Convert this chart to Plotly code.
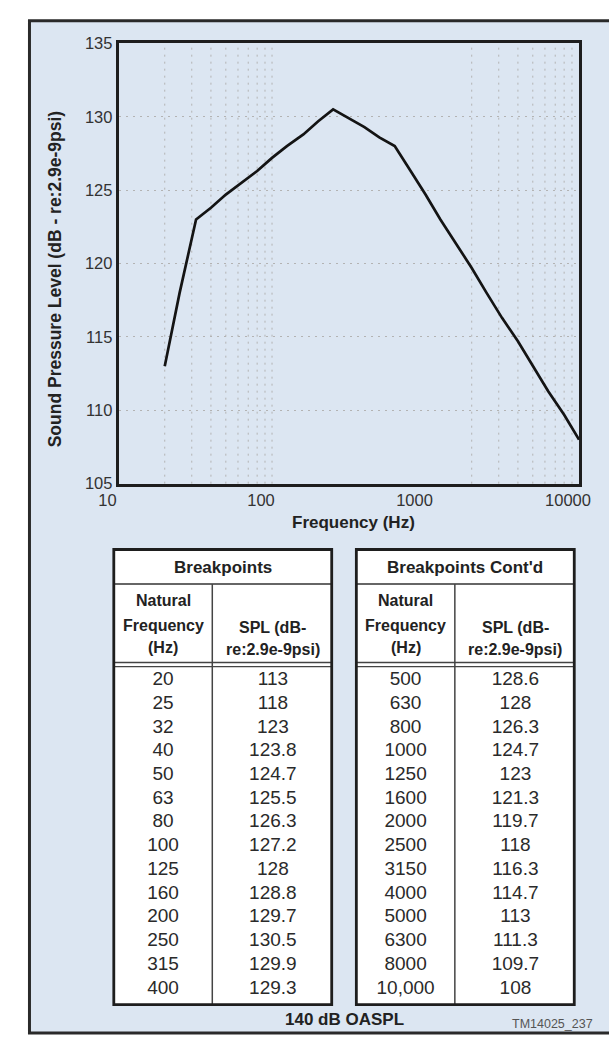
import plotly.graph_objects as go

# ---------------- data ----------------
freq_left = [20, 25, 32, 40, 50, 63, 80, 100, 125, 160, 200, 250, 315, 400]
spl_left = [113, 118, 123, 123.8, 124.7, 125.5, 126.3, 127.2, 128, 128.8, 129.7, 130.5, 129.9, 129.3]
freq_right = [500, 630, 800, 1000, 1250, 1600, 2000, 2500, 3150, 4000, 5000, 6300, 8000, 10000]
spl_right = [128.6, 128, 126.3, 124.7, 123, 121.3, 119.7, 118, 116.3, 114.7, 113, 111.3, 109.7, 108]
freq_right_labels = ["500", "630", "800", "1000", "1250", "1600", "2000", "2500", "3150",
                     "4000", "5000", "6300", "8000", "10,000"]
y_ticks = [105, 110, 115, 120, 125, 130, 135]
x_ticks = [10, 100, 1000, 10000]
x_tick_text = ["10", "100", "1000", "10000"]
grid_freqs = [20, 30, 40, 50, 60, 70, 80, 90, 100,
              2000, 3000, 4000, 5000, 6000, 7000, 8000, 9000]

W, H = 609, 1044
def px(x): return x / W
def py(y): return 1 - y / H

FONT = "Liberation Sans, Arial, Helvetica, sans-serif"
DARK = "#1e1e1e"
GRID = "#b3b3b3"
DOTS = "2px,5px"

fig = go.Figure()

# main curve
fig.add_trace(go.Scatter(
    x=freq_left + freq_right, y=spl_left + spl_right,
    mode="lines", line=dict(color="#141414", width=2.7),
    xaxis="x", yaxis="y", showlegend=False, hoverinfo="x+y"))

# ---------------- tables ----------------
TOP_ROW, BOT_ROW = 13.66, -5.51   # row-unit range of table axes
COL1, COL2, DIV = 0.226, 0.73, 0.452

def table_text(xa, ya, c1, c2):
    n = len(c1)
    for cx, col in ((COL1, c1), (COL2, c2)):
        fig.add_trace(go.Scatter(x=[cx] * n, y=list(range(n)), text=col, mode="text",
                                 textfont=dict(family=FONT, size=19, color="#2a2a2a"),
                                 xaxis=xa, yaxis=ya, showlegend=False, hoverinfo="skip"))

table_text("x2", "y2", [str(f) for f in freq_left], [f"{v:g}" for v in spl_left])
table_text("x3", "y3", freq_right_labels, [f"{v:g}" for v in spl_right])

shapes = []
annotations = []

# outer frame with light-blue background
shapes.append(dict(type="rect", xref="paper", yref="paper",
                   x0=px(10), x1=px(625), y0=py(1042), y1=py(12),
                   fillcolor="#dce6f2", line=dict(color="#2a2a2a", width=3), layer="below"))

# vertical minor gridlines
for g in grid_freqs:
    shapes.append(dict(type="line", xref="x", yref="y domain", x0=g, x1=g, y0=0, y1=1,
                       line=dict(color=GRID, width=1, dash=DOTS), layer="below"))

def ann(xref, yref, x, y, text, size, bold=True, color="#222", angle=0):
    annotations.append(dict(xref=xref, yref=yref, x=x, y=y, textangle=angle,
                            text=("<b>%s</b>" % text) if bold else text, showarrow=False,
                            xanchor="center", yanchor="middle",
                            font=dict(family=FONT, size=size, color=color)))

def table_shapes(xa, ya, title):
    xd, yd = xa + " domain", ya + " domain"
    shapes.append(dict(type="rect", xref=xd, yref=yd, x0=0, x1=1, y0=0, y1=1,
                       fillcolor="white", line=dict(width=0), layer="below"))
    shapes.append(dict(type="line", xref=xd, yref=ya, x0=0, x1=1, y0=-4.06, y1=-4.06,
                       line=dict(color="#333", width=1.6)))
    for yy in (-0.75, -0.58):
        shapes.append(dict(type="line", xref=xd, yref=ya, x0=0, x1=1, y0=yy, y1=yy,
                           line=dict(color="#444", width=1.3)))
    shapes.append(dict(type="line", xref=xd, yref=ya, x0=DIV, x1=DIV, y0=-4.06, y1=TOP_ROW,
                       line=dict(color="#444", width=1.5)))
    shapes.append(dict(type="rect", xref=xd, yref=yd, x0=0, x1=1, y0=0, y1=1,
                       line=dict(color=DARK, width=2.8)))
    ann(xa, ya, 0.5, -4.74, title, 17)
    for txt, yy in (("Natural", -3.35), ("Frequency", -2.32), ("(Hz)", -1.37)):
        ann(xa, ya, COL1, yy, txt, 16)
    for txt, yy in (("SPL (dB-", -2.24), ("re:2.9e-9psi)", -1.28)):
        ann(xa, ya, COL2, yy, txt, 16)

table_shapes("x2", "y2", "Breakpoints")
table_shapes("x3", "y3", "Breakpoints Cont'd")

# axis titles and footer text
ann("paper", "paper", px(37), py(275), "Sound Pressure Level (dB - re:2.9e-9psi)", 17.5, angle=-90)
ann("paper", "paper", px(352), py(523), "Frequency (Hz)", 17)
ann("paper", "paper", px(343), py(1028), "140 dB OASPL", 17)
ann("paper", "paper", px(562), py(1033), "TM14025_237", 12.5, bold=False, color="#555")

tbl_y = [py(1013), py(550)]
hidden = dict(visible=False, fixedrange=True)

fig.update_layout(
    width=W, height=H, margin=dict(l=0, r=0, t=0, b=0),
    paper_bgcolor="white", plot_bgcolor="white", showlegend=False,
    xaxis=dict(type="log", range=[1, 4], domain=[px(104), px(590)],
               tickvals=x_ticks, ticktext=x_tick_text, showgrid=False, zeroline=False,
               showline=True, linecolor=DARK, linewidth=2.6, mirror=True, ticks="",
               ticklabelshift=-11, ticklabeloverflow="allow",
               tickfont=dict(family=FONT, size=16.5, color="#333")),
    yaxis=dict(range=[105, 135], domain=[py(483), py(35)], tickvals=y_ticks,
               showgrid=True, gridcolor=GRID, griddash=DOTS, gridwidth=1, zeroline=False,
               showline=True, linecolor=DARK, linewidth=2.6, mirror=True, ticks="",
               tickfont=dict(family=FONT, size=16.5, color="#333")),
    xaxis2=dict(domain=[px(99), px(329)], range=[0, 1], anchor="y2", **hidden),
    yaxis2=dict(domain=tbl_y, range=[TOP_ROW, BOT_ROW], anchor="x2", **hidden),
    xaxis3=dict(domain=[px(355), px(585)], range=[0, 1], anchor="y3", **hidden),
    yaxis3=dict(domain=tbl_y, range=[TOP_ROW, BOT_ROW], anchor="x3", **hidden),
    shapes=shapes, annotations=annotations,
)

fig.write_html("out.html",
               post_script="document.body.style.margin='0';document.body.style.overflow='hidden';")
